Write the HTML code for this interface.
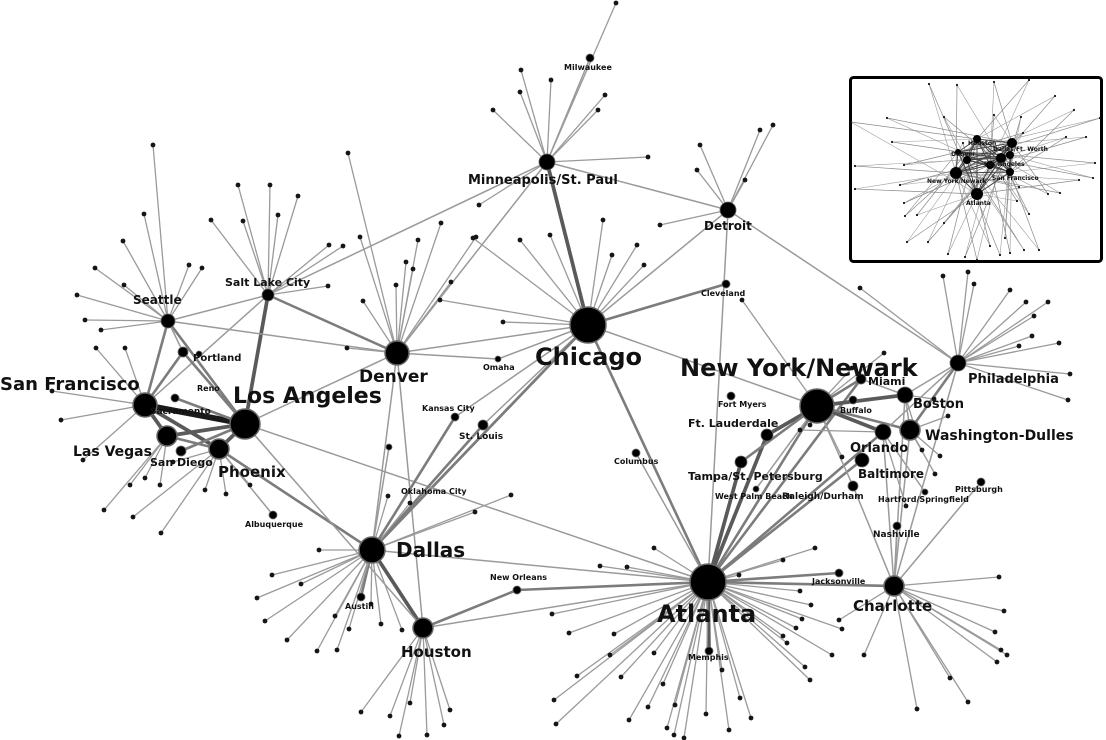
<!DOCTYPE html>
<html><head><meta charset="utf-8"><title>Airline network</title>
<style>
html,body{margin:0;padding:0;background:#fff;}
svg{display:block;font-family:"DejaVu Sans","Liberation Sans",sans-serif;font-weight:bold;}
</style></head>
<body>
<svg id="chart" width="1106" height="740" viewBox="0 0 1106 740" xmlns="http://www.w3.org/2000/svg">
<g id="edges"></g>
<g id="leafedges"></g>
<g id="nodes"></g>
<g id="labels"></g>
<g id="inset"></g>
</svg>
<script>
// hub airports: names, label font sizes, node radius (traffic size)
const hubNames = ["Chicago","New York/Newark","Atlanta","Los Angeles","Dallas","Denver","San Francisco","Houston","Charlotte","Phoenix","Las Vegas","Minneapolis/St. Paul","Detroit","Philadelphia","Washington-Dulles","Boston","Orlando","Baltimore","Seattle","Salt Lake City","Portland","Miami","Ft. Lauderdale","Tampa/St. Petersburg","San Diego","Sacramento","Reno","Cleveland","Omaha","Kansas City","St. Louis","Columbus","Fort Myers","Buffalo","Oklahoma City","Albuquerque","New Orleans","Austin","Memphis","Jacksonville","Nashville","Raleigh/Durham","Hartford/Springfield","Pittsburgh","West Palm Beach","Milwaukee"];
const hubSize = [18,17,18,15,13,12,12,10,10,10,10,8,8,8,10,8,8,7,7,6,5,5,6,6,5,4,3,4,3,4,5,4,4,4,3,4,4,4,4,4,4,5,3,4,3,4];
const labelSize = [24,24,24,22,20,17,18,15,15,15,14,13,12,13,14,13,13,12,12,11,10,11,11,11,11,9,8,8,8,8,9,8,8,8,8,8,8,8,8,8,9,9,8,8,8,8];
// layout (graph embedding, not data values)
const layout = [[588,325],[817,406],[708,582],[245,424],[372,550],[397,353],[145,405],[423,628],[894,586],[219,449],[167,436],[547,162],[728,210],[958,363],[910,430],[905,395],[883,432],[862,460],[168,321],[268,295],[183,352],[861,379],[767,435],[741,462],[181,451],[175,398],[199,354],[726,284],[498,359],[455,417],[483,425],[636,453],[731,396],[853,400],[389,447],[273,515],[517,590],[361,597],[709,651],[839,573],[897,526],[853,486],[925,492],[981,482],[756,489],[590,58]];
const labelPos = [[535,365],[680,376],[657,622],[233,403],[396,557],[359,382],[0,390],[401,657],[853,611],[218,477],[73,456],[468,184],[704,230],[968,383],[925,440],[913,408],[850,452],[858,478],[133,304],[225,286],[193,361],[868,385],[688,427],[688,480],[150,466],[150,414],[197,391],[701,296],[483,370],[422,411],[459,439],[614,464],[718,407],[840,413],[401,494],[245,527],[490,580],[345,609],[688,660],[812,584],[873,537],[782,499],[878,502],[955,492],[715,499],[564,70]];
// hub-to-hub routes: [from, to, weight]
const routes = [[6,3,5],[6,10,3],[6,9,3],[3,10,3],[3,9,3],[3,19,3],[3,18,2],[3,5,1],[18,6,2],[18,20,1],[18,5,1],[18,19,1],[19,5,2],[19,6,1],[20,3,2],[20,6,2],[24,3,2],[25,3,2],[10,9,2],[5,4,1],[5,7,1],[5,0,1],[5,11,1],[4,7,3],[4,0,2],[4,2,1],[7,36,2],[36,2,2],[7,2,1],[0,11,3],[0,12,1],[0,27,2],[0,2,2],[0,1,1],[0,30,1],[0,29,1],[0,4,2],[11,12,1],[11,19,1],[2,1,2],[2,22,3],[2,23,3],[2,16,2],[2,8,2],[2,17,2],[2,21,2],[2,39,2],[2,38,3],[2,31,1],[1,15,3],[1,16,3],[1,22,3],[1,21,2],[1,14,2],[1,23,2],[8,13,1],[8,15,1],[8,16,1],[8,14,1],[13,15,1],[13,16,1],[13,14,2],[13,12,1],[12,2,1],[9,4,2],[9,35,1],[3,2,1],[3,7,1],[29,4,2],[30,4,2],[34,4,1],[37,4,2],[15,14,1],[21,15,1],[8,41,1],[8,40,1],[8,43,1],[16,42,1],[1,44,1],[1,41,1],[11,45,1],[0,28,1],[5,28,1]];
// leaf airports: [x, y, hub]
const leaves = [[616,3,11],[521,70,11],[551,80,11],[605,95,11],[598,110,11],[493,110,11],[520,92,11],[648,157,11],[479,205,11],[473,238,0],[520,240,0],[550,235,0],[603,220,0],[612,255,0],[644,265,0],[700,145,12],[773,125,12],[760,130,12],[697,170,12],[745,180,12],[660,225,12],[637,245,0],[503,322,0],[440,300,0],[348,153,5],[360,237,5],[418,240,5],[406,262,5],[441,223,5],[476,237,5],[396,285,5],[413,269,5],[451,282,5],[363,301,5],[347,348,5],[153,145,18],[144,214,18],[123,241,18],[95,268,18],[77,295,18],[124,285,18],[85,320,18],[189,265,18],[202,268,18],[101,330,18],[211,220,19],[238,185,19],[270,185,19],[298,196,19],[243,221,19],[278,215,19],[329,245,19],[343,246,19],[328,286,19],[52,391,6],[61,420,6],[83,460,6],[96,348,6],[125,348,6],[130,485,10],[160,485,10],[104,510,10],[173,462,9],[205,490,9],[133,517,9],[161,533,9],[250,485,9],[226,494,9],[145,478,10],[319,550,4],[272,575,4],[257,598,4],[301,584,4],[265,621,4],[287,640,4],[317,651,4],[337,650,4],[349,629,4],[335,616,4],[402,630,4],[381,624,4],[371,604,4],[388,496,4],[410,503,4],[511,495,4],[475,512,4],[361,712,7],[410,703,7],[450,710,7],[427,735,7],[399,736,7],[390,716,7],[444,725,7],[554,700,2],[556,724,2],[569,633,2],[610,655,2],[621,677,2],[629,720,2],[648,707,2],[667,728,2],[674,735,2],[675,705,2],[684,738,2],[706,714,2],[729,730,2],[751,718,2],[740,698,2],[722,670,2],[663,684,2],[614,634,2],[552,614,2],[577,676,2],[654,653,2],[627,567,2],[654,548,2],[600,566,2],[783,636,2],[796,628,2],[802,619,2],[811,605,2],[800,591,2],[739,575,2],[787,643,2],[805,667,2],[832,655,2],[810,680,2],[783,560,2],[815,548,2],[842,629,2],[999,577,8],[1004,611,8],[995,632,8],[1007,655,8],[950,678,8],[917,709,8],[968,702,8],[997,662,8],[1001,650,8],[864,655,8],[839,620,8],[943,276,13],[968,272,13],[974,284,13],[1010,290,13],[1034,316,13],[1026,302,13],[1048,302,13],[1059,343,13],[1070,374,13],[1068,400,13],[1019,346,13],[1032,336,13],[884,353,1],[852,368,1],[842,457,1],[810,425,1],[940,456,14],[935,474,14],[906,506,16],[915,428,15],[860,288,13],[742,300,1],[800,430,16],[934,399,15],[922,450,14],[948,416,14]];
// inset overview: node positions + sizes
const insetHubs = [[977,194,6,"Atlanta"],[956,173,6,"New York/Newark"],[1012,143,5,"Dallas/Ft. Worth"],[977,139,4,"Houston"],[1001,158,5,"Los Angeles"],[1010,172,4,"San Francisco"],[967,160,4,"Denver"],[990,165,4,"Chicago"],[1010,155,4,"Phoenix"],[958,152,3,"Seattle"]];
const insetLeaves = [[929,84],[957,85],[994,82],[1029,80],[1055,96],[1074,110],[1100,118],[1086,137],[1095,163],[1093,178],[1079,180],[1060,193],[1048,194],[1017,201],[1029,214],[1039,250],[1024,250],[1010,253],[1005,238],[1000,255],[990,246],[977,260],[965,257],[948,254],[928,242],[907,242],[905,216],[904,203],[900,185],[904,165],[855,189],[855,166],[887,118],[851,122],[892,142],[944,117],[963,143],[994,115],[1021,117],[1023,133],[1066,137],[1019,187],[944,223],[917,215]];

const ns = "http://www.w3.org/2000/svg";
const gE = document.getElementById('edges'), gL = document.getElementById('leafedges'), gN = document.getElementById('nodes'), gT = document.getElementById('labels'), gI = document.getElementById('inset');
function X(i){return layout[i][0];}
function Y(i){return layout[i][1];}
function mk(tag, attrs, parent){const e=document.createElementNS(ns,tag);for(const k in attrs)e.setAttribute(k,attrs[k]);parent.appendChild(e);return e;}

leaves.forEach((l,i)=>{
  const ln = mk('line',{x1:l[0],y1:l[1],x2:X(l[2]),y2:Y(l[2]),stroke:'#9a9a9a','stroke-width':1.3},gL);
  
  
});
routes.forEach((r,i)=>{
  const w=r[2];
  const col = w>=5?'#1a1a1a':w>=3?'#5a5a5a':w>=2?'#7c7c7c':'#9a9a9a';
  const ln = mk('line',{x1:X(r[0]),y1:Y(r[0]),x2:X(r[1]),y2:Y(r[1]),stroke:col,'stroke-width':w*1.1+0.4},gE);
  
  
});
leaves.forEach((l,i)=>{
  const c = mk('circle',{cx:l[0],cy:l[1],r:2.4,fill:'#151515'},gN);
  
  
});
hubNames.forEach((n,i)=>{
  const slug=n.toLowerCase().replace(/[^a-z]+/g,'-');
  const c = mk('circle',{cx:X(i),cy:Y(i),r:hubSize[i],fill:'#000',stroke:'#666','stroke-width':hubSize[i]>8?1.5:0.8},gN);
  
  
  const t = mk('text',{x:labelPos[i][0],y:labelPos[i][1],'font-size':labelSize[i],fill:'#111',stroke:'#fff','stroke-width':labelSize[i]>=12?0:0,'paint-order':'stroke'},gT);
  t.textContent=n;
  
  
});
// inset
const box = mk('rect',{x:850.5,y:77.5,width:251,height:184,rx:3,fill:'#fff',stroke:'#000','stroke-width':3},gI);


insetLeaves.forEach((p,i)=>{
  const h = insetHubs[i%insetHubs.length];
  const h2 = insetHubs[(i*3+1)%insetHubs.length];
  const a = mk('line',{x1:p[0],y1:p[1],x2:h[0],y2:h[1],stroke:'#8a8a8a','stroke-width':0.7},gI);
  
  
  const b = mk('line',{x1:p[0],y1:p[1],x2:h2[0],y2:h2[1],stroke:'#9a9a9a','stroke-width':0.6},gI);
  
  
});
insetHubs.forEach((h,i)=>{insetHubs.forEach((g,j)=>{if(j>i){
  const l=mk('line',{x1:h[0],y1:h[1],x2:g[0],y2:g[1],stroke:'#444','stroke-width':0.9},gI);
  
  
}});});
insetLeaves.forEach(p=>{
  const c=mk('circle',{cx:p[0],cy:p[1],r:1.1,fill:'#111'},gI);
  
  
});
insetHubs.forEach((h,i)=>{
  const c=mk('circle',{cx:h[0],cy:h[1],r:h[2],fill:'#000'},gI);
  
  
});
[[966,205,"Atlanta"],[927,183,"New York/Newark"],[993,151,"Dallas/Ft. Worth"],[968,145,"Houston"],[984,166,"Los Angeles"],[992,180,"San Francisco"],[951,156,"Denver"]].forEach(t=>{
  const e=mk('text',{x:t[0],y:t[1],'font-size':6,fill:'#111'},gI);
  e.textContent=t[2];
  
  
});
</script>
</body></html>
